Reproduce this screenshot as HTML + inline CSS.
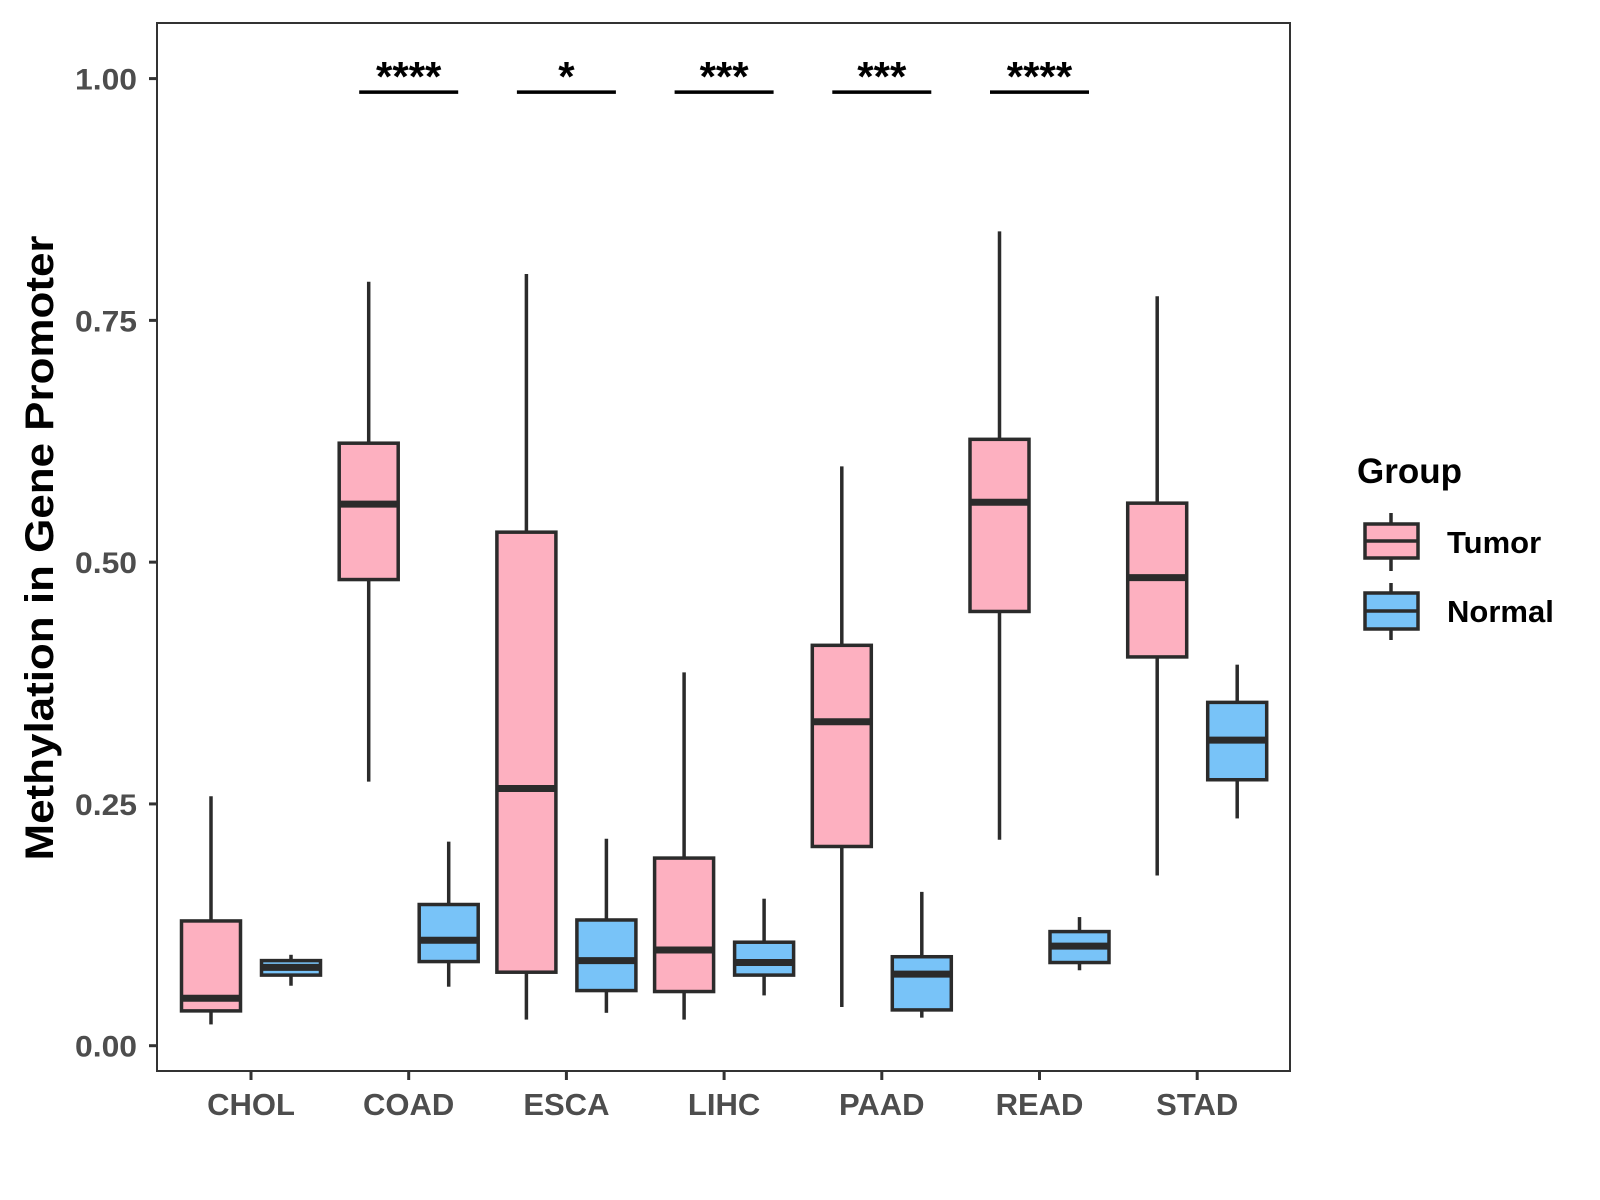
<!DOCTYPE html>
<html><head><meta charset="utf-8"><style>
html,body{margin:0;padding:0;background:#fff;}
svg{display:block;font-family:"Liberation Sans",Arial,sans-serif;font-weight:bold;}
</style></head><body>
<svg id="chart" width="1600" height="1200" viewBox="0 0 1600 1200">
<rect x="0" y="0" width="1600" height="1200" fill="#fff"/>
<g id="plot"></g>
<text x="53" y="548" font-size="40" fill="#000" text-anchor="middle" transform="rotate(-90 53 548)" textLength="625" lengthAdjust="spacingAndGlyphs">Methylation in Gene Promoter</text>
<g>
<text x="1357" y="483" font-size="35" fill="#000">Group</text>
<g>
<line x1="1391" y1="513" x2="1391" y2="571" stroke="#2b2b2b" stroke-width="3.5"/>
<rect x="1365" y="524" width="53" height="34" fill="#FDB0C0" stroke="#2b2b2b" stroke-width="3.5"/>
<line x1="1365" y1="541" x2="1418" y2="541" stroke="#2b2b2b" stroke-width="3.5"/>
<text x="1447" y="553" font-size="31" fill="#000">Tumor</text>
</g>
<g>
<line x1="1391" y1="583" x2="1391" y2="640" stroke="#2b2b2b" stroke-width="3.5"/>
<rect x="1365" y="593" width="53" height="36" fill="#78C3F8" stroke="#2b2b2b" stroke-width="3.5"/>
<line x1="1365" y1="611" x2="1418" y2="611" stroke="#2b2b2b" stroke-width="3.5"/>
<text x="1447" y="622" font-size="31" fill="#000">Normal</text>
</g>
</g>
</svg>
<script>
const categories = ["CHOL","COAD","ESCA","LIHC","PAAD","READ","STAD"];
// [low, q1, median, q3, high]
const tumorStats = [
 [0.022,0.036,0.049,0.129,0.258],
 [0.273,0.482,0.560,0.623,0.790],
 [0.027,0.076,0.266,0.531,0.798],
 [0.027,0.056,0.099,0.194,0.386],
 [0.040,0.206,0.335,0.414,0.599],
 [0.213,0.449,0.562,0.627,0.842],
 [0.176,0.402,0.484,0.561,0.775]
];
const normalStats = [
 [0.062,0.073,0.081,0.088,0.094],
 [0.061,0.087,0.109,0.146,0.211],
 [0.034,0.057,0.088,0.130,0.214],
 [0.052,0.073,0.086,0.107,0.152],
 [0.029,0.037,0.074,0.092,0.159],
 [0.078,0.086,0.103,0.118,0.133],
 [0.235,0.275,0.316,0.355,0.394]
];
const sigLabels = ["","****","*","***","***","****",""];
const sigLevel = 0.986;
const yTicks = [0,0.25,0.5,0.75,1.0];
const yTickLabels = ["0.00","0.25","0.50","0.75","1.00"];

const NS="http://www.w3.org/2000/svg";
const L=157,R=1290,T=23,B=1071;
const y0=1045.7,y1=78.6;
function yScale(v){return y0+(y1-y0)*v;}
function xScale(i){return 251+157.7*i;}
const g=document.getElementById('plot');
function mk(tag,attrs,parent){const e=document.createElementNS(NS,tag);for(const k in attrs)e.setAttribute(k,attrs[k]);(parent||g).appendChild(e);return e;}

const frame=mk('rect',{x:L,y:T,width:R-L,height:B-T,fill:'none',stroke:'#333',"stroke-width":2});



yTicks.forEach((v,i)=>{
 const y=yScale(v);
 const t=mk('line',{x1:L-8,y1:y,x2:L,y2:y,stroke:'#333',"stroke-width":3});
 
 
 const tx=mk('text',{x:L-20,y:y+11,"font-size":30,fill:'#4d4d4d',"text-anchor":'end',textLength:62,lengthAdjust:'spacingAndGlyphs'});
 tx.textContent=yTickLabels[i];
 
 
});

categories.forEach((c,i)=>{
 const x=xScale(i);
 const t=mk('line',{x1:x,y1:B,x2:x,y2:B+9,stroke:'#333',"stroke-width":3});
 
 
 const tx=mk('text',{x:x,y:1115,"font-size":31,fill:'#4d4d4d',"text-anchor":'middle'});
 tx.textContent=c;
 
 
});

function drawBox(i,s,off,fill,name){
 const cx=xScale(i)+off,hw=29.5;
 const grp=mk('g',{});
 
 
 mk('line',{x1:cx,y1:yScale(s[4]),x2:cx,y2:yScale(s[3]),stroke:'#2b2b2b',"stroke-width":3.5},grp);
 mk('line',{x1:cx,y1:yScale(s[1]),x2:cx,y2:yScale(s[0]),stroke:'#2b2b2b',"stroke-width":3.5},grp);
 mk('rect',{x:cx-hw,y:yScale(s[3]),width:2*hw,height:yScale(s[1])-yScale(s[3]),fill:fill,stroke:'#2b2b2b',"stroke-width":3.5},grp);
 mk('line',{x1:cx-hw,y1:yScale(s[2]),x2:cx+hw,y2:yScale(s[2]),stroke:'#2b2b2b',"stroke-width":7},grp);
}
categories.forEach((c,i)=>{
 drawBox(i,tumorStats[i],-40,'#FDB0C0','box-tumor-'+c.toLowerCase());
 drawBox(i,normalStats[i],40,'#78C3F8','box-normal-'+c.toLowerCase());
 if(sigLabels[i]){
  const x=xScale(i),y=yScale(sigLevel);
  const l=mk('line',{x1:x-49.5,y1:y,x2:x+49.5,y2:y,stroke:'#000',"stroke-width":3.5});
  
  
  const t=mk('text',{x:x,y:y-1,"font-size":42,fill:'#000',"text-anchor":'middle'});
  t.textContent=sigLabels[i];
  
  
 }
});
</script>
</body></html>
